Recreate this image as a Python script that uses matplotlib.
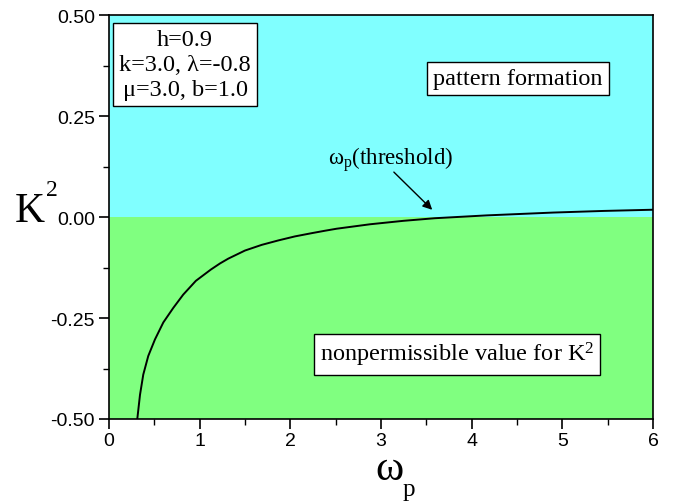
import matplotlib
matplotlib.use("Agg")
import matplotlib.pyplot as plt

plt.rcParams["mathtext.fontset"] = "custom"
plt.rcParams["mathtext.rm"] = "Liberation Serif"
plt.rcParams["mathtext.it"] = "Liberation Serif:italic"

# Data
omega_p = [0.312, 0.342, 0.378, 0.433, 0.507, 0.599, 0.709, 0.819, 0.958, 1.124,
           1.224, 1.316, 1.500, 1.684, 1.867, 2.051, 2.236, 2.382, 2.511, 2.879,
           3.246, 3.595, 4.166, 4.900, 5.452, 6.0]
K2 = [-0.500, -0.440, -0.390, -0.344, -0.303, -0.261, -0.225, -0.192, -0.158, -0.130,
      -0.115, -0.103, -0.083, -0.069, -0.058, -0.048, -0.040, -0.034, -0.029, -0.018,
      -0.0095, -0.003, 0.004, 0.011, 0.015, 0.018]

x_ticks = [0, 1, 2, 3, 4, 5, 6]
y_ticks = [-0.50, -0.25, 0.00, 0.25, 0.50]
y_tick_labels = ["-0.50", "-0.25", "0.00", "0.25", "0.50"]
param_text = "h=0.9\nk=3.0, λ=-0.8\nμ=3.0, b=1.0"

serif = ["Liberation Serif", "DejaVu Serif"]
sans = ["Liberation Sans", "DejaVu Sans"]

fig = plt.figure(figsize=(6.74, 5.02), dpi=100)
ax = fig.add_axes([109/674, 1 - 420/502, 544/674, 404/502])

ax.axhspan(0, 0.5, color="#80FFFF", zorder=0, lw=0)
ax.axhspan(-0.5, 0, color="#80FF80", zorder=0, lw=0)
ax.plot(omega_p, K2, color="black", lw=1.4, zorder=3, solid_joinstyle="round")

ax.set_xlim(0, 6)
ax.set_ylim(-0.5, 0.5)
ax.set_xticks(x_ticks)
ax.set_xticks([0.5 + i for i in range(6)], minor=True)
ax.set_yticks(y_ticks)
ax.set_yticklabels(y_tick_labels)
ax.set_yticks([-0.375, -0.125, 0.125, 0.375], minor=True)
ax.tick_params(which="major", direction="out", length=7, width=1.2,
               labelsize=14, pad=3)
ax.tick_params(axis="x", which="major", pad=2)
ax.tick_params(which="minor", direction="out", length=4, width=1.0)
for lab in ax.get_xticklabels() + ax.get_yticklabels():
    lab.set_family(sans)
for s in ax.spines.values():
    s.set_linewidth(1.2)

box = dict(boxstyle="square,pad=0.25", fc="white", ec="black", lw=1.0)
ax.text(0.84, 0.378, param_text, family=serif, fontsize=17.5, ha="center",
        va="center", linespacing=1.25, bbox=box, zorder=5)
ax.text(4.51, 0.343, "pattern formation", family=serif, fontsize=17.5,
        ha="center", va="center", bbox=box, zorder=5)
ax.text(3.84, -0.340, r"nonpermissible value for K$^{\mathrm{2}}$", family=serif,
        fontsize=17.5, ha="center", va="center", bbox=box, zorder=5)

# threshold label and arrow
ax.text(2.41, 0.145, r"$\mathrm{ω_{p}(threshold)}$", fontsize=16.5,
        ha="left", va="center")
ax.annotate("", xy=(3.587, 0.013), xytext=(3.12, 0.116),
            arrowprops=dict(arrowstyle="-|>", color="black", lw=1.0,
                            mutation_scale=14), zorder=4)

# axis labels
fig.text(30/674, 1 - 212/502, "K", family=serif, fontsize=30, ha="center", va="center")
fig.text(52/674, 1 - 190/502, "2", family=serif, fontsize=17, ha="center", va="center")
fig.text(389/674, 1 - 480/502, r"$\mathrm{ω}$", fontsize=31, ha="center", va="baseline")
fig.text(409/674, 1 - 496/502, r"$\mathrm{p}$", fontsize=18, ha="center", va="baseline")

fig.savefig("out.png", dpi=100)
